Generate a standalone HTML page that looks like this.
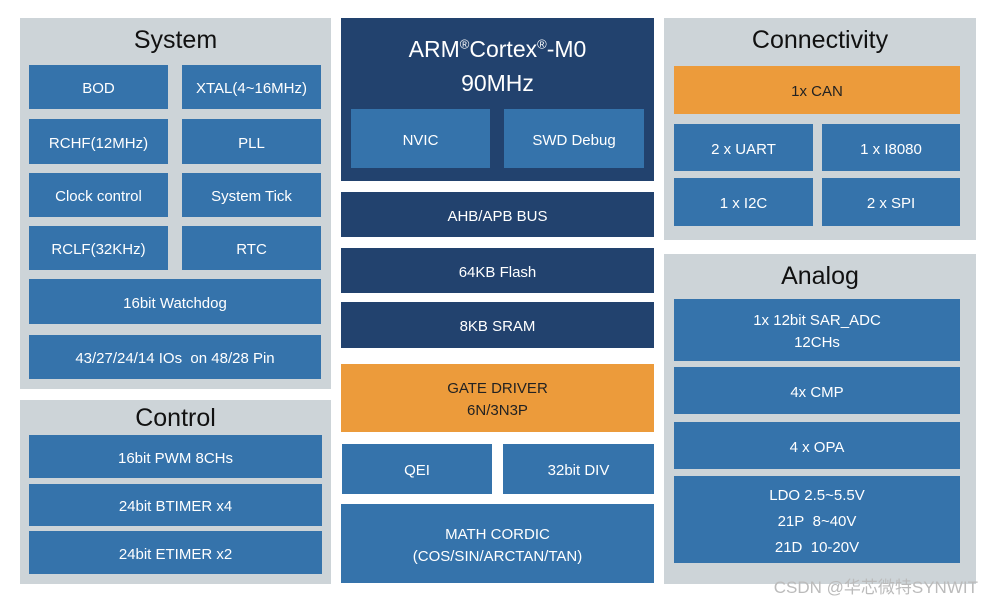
<!DOCTYPE html><html><head><style>
body{margin:0;width:993px;height:603px;background:#fff;position:relative;overflow:hidden;font-family:"Liberation Sans","Noto Sans CJK SC",sans-serif}
div{position:absolute;box-sizing:border-box}
.p{background:#cdd4d8}
.b,.d,.o{display:flex;align-items:center;justify-content:center;text-align:center;color:#fff;font-size:15px;line-height:22px;padding-top:4px}
.b{background:#3573ab}.d{background:#22426e}.o{background:#ec9b3b;color:#222}
.t{font-size:25px;color:#111;text-align:center;width:100%}
</style></head><body>
<div class="p" style="left:20px;top:18px;width:311px;height:371px"><div class="t" style="top:8px">System</div></div>
<div class="b" style="left:29px;top:65px;width:139px;height:44px">BOD</div>
<div class="b" style="left:182px;top:65px;width:139px;height:44px">XTAL(4~16MHz)</div>
<div class="b" style="left:29px;top:119px;width:139px;height:45px">RCHF(12MHz)</div>
<div class="b" style="left:182px;top:119px;width:139px;height:45px">PLL</div>
<div class="b" style="left:29px;top:173px;width:139px;height:44px">Clock control</div>
<div class="b" style="left:182px;top:173px;width:139px;height:44px">System Tick</div>
<div class="b" style="left:29px;top:226px;width:139px;height:44px">RCLF(32KHz)</div>
<div class="b" style="left:182px;top:226px;width:139px;height:44px">RTC</div>
<div class="b" style="left:29px;top:279px;width:292px;height:45px">16bit Watchdog</div>
<div class="b" style="left:29px;top:335px;width:292px;height:44px">43/27/24/14 IOs&nbsp; on 48/28 Pin</div>
<div class="p" style="left:20px;top:400px;width:311px;height:184px"><div class="t" style="top:4px">Control</div></div>
<div class="b" style="left:29px;top:435px;width:293px;height:43px">16bit PWM 8CHs</div>
<div class="b" style="left:29px;top:484px;width:293px;height:42px">24bit BTIMER x4</div>
<div class="b" style="left:29px;top:531px;width:293px;height:43px">24bit ETIMER x2</div>
<div style="left:341px;top:18px;width:313px;height:163px;background:#22426e;color:#fff;text-align:center;padding-top:14px;font-size:23px;line-height:34px"><span>ARM<sup style="font-size:13px;line-height:0">®</sup>Cortex<sup style="font-size:13px;line-height:0">®</sup>-M0</span><br>90MHz</div>
<div class="b" style="left:351px;top:109px;width:139px;height:59px">NVIC</div>
<div class="b" style="left:504px;top:109px;width:140px;height:59px">SWD Debug</div>
<div class="d" style="left:341px;top:192px;width:313px;height:45px">AHB/APB BUS</div>
<div class="d" style="left:341px;top:248px;width:313px;height:45px">64KB Flash</div>
<div class="d" style="left:341px;top:302px;width:313px;height:46px">8KB SRAM</div>
<div class="o" style="left:341px;top:364px;width:313px;height:68px">GATE DRIVER<br>6N/3N3P</div>
<div class="b" style="left:342px;top:444px;width:150px;height:50px">QEI</div>
<div class="b" style="left:503px;top:444px;width:151px;height:50px">32bit DIV</div>
<div class="b" style="left:341px;top:504px;width:313px;height:79px">MATH CORDIC<br>(COS/SIN/ARCTAN/TAN)</div>
<div class="p" style="left:664px;top:18px;width:312px;height:222px"><div class="t" style="top:8px">Connectivity</div></div>
<div class="o" style="left:674px;top:66px;width:286px;height:48px">1x CAN</div>
<div class="b" style="left:674px;top:124px;width:139px;height:47px">2 x UART</div>
<div class="b" style="left:822px;top:124px;width:138px;height:47px">1 x I8080</div>
<div class="b" style="left:674px;top:178px;width:139px;height:48px">1 x I2C</div>
<div class="b" style="left:822px;top:178px;width:138px;height:48px">2 x SPI</div>
<div class="p" style="left:664px;top:254px;width:312px;height:330px"><div class="t" style="top:8px">Analog</div></div>
<div class="b" style="left:674px;top:299px;width:286px;height:62px">1x 12bit SAR_ADC<br>12CHs</div>
<div class="b" style="left:674px;top:367px;width:286px;height:47px">4x CMP</div>
<div class="b" style="left:674px;top:422px;width:286px;height:47px">4 x OPA</div>
<div class="b" style="left:674px;top:476px;width:286px;height:87px;line-height:26px">LDO 2.5~5.5V<br>21P&nbsp; 8~40V<br>21D&nbsp; 10-20V</div>
<div style="right:15px;top:573px;font-size:17px;color:#bbb;white-space:nowrap">CSDN @华芯微特SYNWIT</div>
</body></html>
